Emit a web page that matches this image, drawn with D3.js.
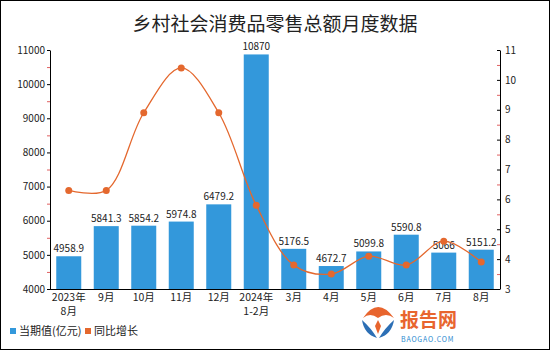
<!DOCTYPE html>
<html><head><meta charset="utf-8">
<script src="https://cdn.jsdelivr.net/npm/d3@7"></script>
<style>body{margin:0;background:#fff}svg{display:block}text{font-family:"Noto Sans CJK SC","Noto Sans",sans-serif}</style>
</head><body>
<svg id="c" width="550" height="350"></svg>
<script>
const title = "乡村社会消费品零售总额月度数据";
const categories = ["2023年\n8月","9月","10月","11月","12月","2024年\n1-2月","3月","4月","5月","6月","7月","8月"];
const barLabels = ["4958.9","5841.3","5854.2","5974.8","6479.2","10870","5176.5","4672.7","5099.8","5590.8","5066","5151.2"];
const values = [4958.9,5841.3,5854.2,5974.8,6479.2,10870,5176.5,4672.7,5099.8,5590.8,5066,5151.2];
const growth = [6.3,6.3,8.9,10.4,8.9,5.8,3.8,3.5,4.1,3.8,4.6,3.9];
const leftTicks = [4000,5000,6000,7000,8000,9000,10000,11000];
const rightTicks = [3,4,5,6,7,8,9,10,11];
const legendNames = ["当期值(亿元)","同比增长"];

const svg = d3.select("#c");
const L=50,R=500,T=50,B=289;
const blue="#3398DB", orange="#E4682E";
svg.append("rect").attr("x",0.5).attr("y",0.5).attr("width",549).attr("height",349).attr("fill","#fff").attr("stroke","#000");
svg.append("text").attr("x",275).attr("y",31).attr("text-anchor","middle").attr("font-size",19).attr("fill","#222").text(title);

const x = d3.scaleBand().domain(categories).range([L,R]).paddingInner(1/3).paddingOuter(1/6);
const yL = d3.scaleLinear().domain([4000,11000]).range([B,T]);
const yR = d3.scaleLinear().domain([3,11]).range([B,T]);

// minor ticks
const minorL = d3.range(4500,11000,1000);
svg.append("g").selectAll("line").data(minorL).join("line")
 .attr("x1",L-3).attr("x2",L).attr("y1",d=>yL(d)+0.5).attr("y2",d=>yL(d)+0.5).attr("stroke","#e06060");
const minorR = d3.range(3.5,11,1);
svg.append("g").selectAll("line").data(minorR).join("line")
 .attr("x1",R-3).attr("x2",R).attr("y1",d=>yR(d)+0.5).attr("y2",d=>yR(d)+0.5).attr("stroke","#e06060");

const gl = svg.append("g").attr("transform",`translate(${L},0)`)
 .call(d3.axisLeft(yL).tickValues(leftTicks).tickSize(3).tickSizeOuter(0).tickFormat(d3.format("d")));
const gr = svg.append("g").attr("transform",`translate(${R},0)`)
 .call(d3.axisLeft(yR).tickValues(rightTicks).tickSize(3).tickSizeOuter(0).tickFormat(d3.format("d")));
gr.selectAll(".tick text").attr("x",5).attr("text-anchor","start");
[gl,gr].forEach(g=>{g.selectAll("text").attr("font-size",10).attr("fill","#222");g.select(".domain").attr("stroke","#000");g.selectAll(".tick line").attr("stroke","#000");});
gl.selectAll(".tick text").attr("x",-5);

// bars
svg.append("g").selectAll("rect").data(values).join("rect")
 .attr("x",(d,i)=>x(categories[i])).attr("width",x.bandwidth())
 .attr("y",d=>yL(d)).attr("height",d=>B-yL(d)).attr("fill",blue);
svg.append("g").selectAll("text").data(values).join("text")
 .attr("x",(d,i)=>x(categories[i])+x.bandwidth()/2).attr("y",d=>yL(d)-4)
 .attr("text-anchor","middle").attr("font-size",10).attr("fill","#222")
 .text((d,i)=>barLabels[i]);

// x axis
svg.append("line").attr("x1",L).attr("x2",R).attr("y1",B+0.5).attr("y2",B+0.5).attr("stroke","#000");
const xg = svg.append("g");
categories.forEach(c=>{
 c.split("\n").forEach((p,k)=>{
  xg.append("text").attr("x",x(c)+x.bandwidth()/2).attr("y",B+12+k*14)
   .attr("text-anchor","middle").attr("font-size",10.5).attr("fill","#222").text(p);
 });
});

// line
const line = d3.line().x((d,i)=>x(categories[i])+x.bandwidth()/2).y(d=>yR(d)).curve(d3.curveCatmullRom.alpha(0.5));
svg.append("path").datum(growth).attr("d",line).attr("fill","none").attr("stroke",orange).attr("stroke-width",1.3);
svg.append("g").selectAll("circle").data(growth).join("circle")
 .attr("cx",(d,i)=>x(categories[i])+x.bandwidth()/2).attr("cy",d=>yR(d)).attr("r",3.5).attr("fill",orange);

// legend
const lg = svg.append("g");
[[10,blue,legendNames[0]],[85,orange,legendNames[1]]].forEach(([lx,c,t])=>{
 lg.append("rect").attr("x",lx).attr("y",328).attr("width",6).attr("height",6).attr("fill",c);
 lg.append("text").attr("x",lx+9).attr("y",335).attr("font-size",11).attr("fill","#222").text(t);
});

// watermark logo
const wm = svg.append("g");
wm.append("path").attr("d","M363,318 Q378,296 394,318 Q386,312 378,318 Q370,312 363,318Z").attr("fill","#E8652E");
wm.append("path").attr("d","M362,320 Q364,334 377,338 Q371,328 362,320Z M394,320 Q392,334 379,338 Q385,328 394,320Z").attr("fill","#2C6FB5");
wm.append("path").attr("d","M378,320 L381,326 L378,334 L375,326Z").attr("fill","#E8652E");
wm.append("text").attr("x",400).attr("y",327).attr("font-size",19).attr("font-weight","bold").attr("fill","#E8652E").text("报告网");
wm.append("text").attr("x",401).attr("y",342).attr("font-size",7).attr("fill","#2C8BD0").attr("letter-spacing",0.8).text("BAOGAO.COM");
</script>
</body></html>
